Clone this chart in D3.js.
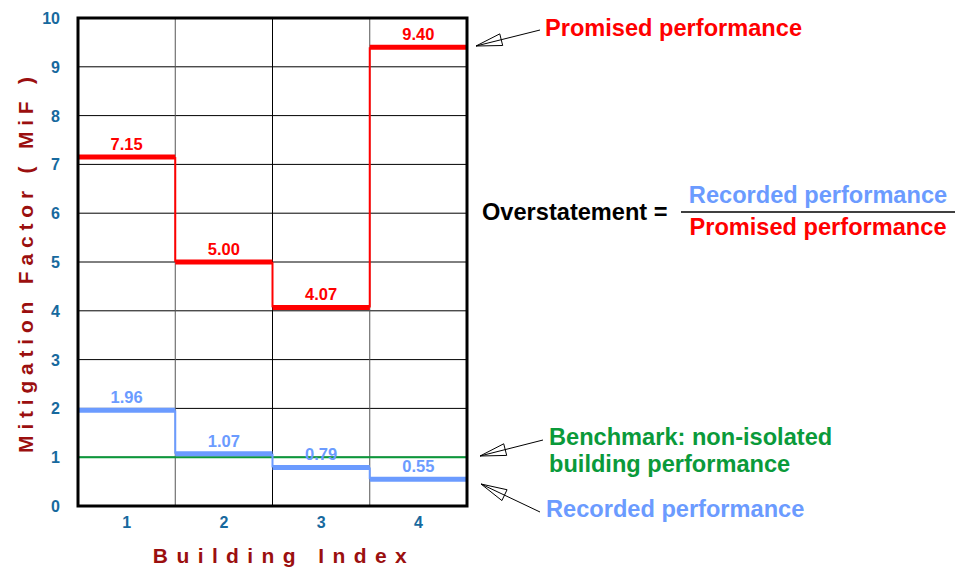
<!DOCTYPE html>
<html>
<head>
<meta charset="utf-8">
<script src="https://cdn.jsdelivr.net/npm/d3@7"></script>
<style>
  body { margin: 0; background: #fff; }
  text { font-family: "Liberation Sans", Arial, sans-serif; font-weight: bold; }
</style>
</head>
<body>
<svg id="chart" width="955" height="568"></svg>
<script>
// data
const buildings = [1, 2, 3, 4]
const promised = [7.15, 5.00, 4.07, 9.40]
const recorded = [1.96, 1.07, 0.79, 0.55]
const benchmark = 1
const yTicks = [0, 1, 2, 3, 4, 5, 6, 7, 8, 9, 10]

const RED = '#ff0000'
const BLUE = '#6b9bff'
const GREEN = '#0a9a3a'
const TICK = '#17699e'
const DARKRED = '#9b0f0f'

const svg = d3.select('#chart')
const pLeft = 78, pRight = 467, pTop = 18, pBottom = 506

const x = d3.scaleLinear().domain([0.5, 4.5]).range([pLeft, pRight])
const y = d3.scaleLinear().domain([0, 10]).range([pBottom, pTop])

// grid
svg.append('g').selectAll('line').data(yTicks.slice(1, -1)).join('line')
    .attr('x1', pLeft).attr('x2', pRight)
    .attr('y1', d => y(d)).attr('y2', d => y(d))
    .attr('stroke', '#000').attr('stroke-width', 1)
svg.append('g').selectAll('line').data(buildings.slice(0, -1)).join('line')
    .attr('x1', d => x(d + 0.5)).attr('x2', d => x(d + 0.5))
    .attr('y1', pTop).attr('y2', pBottom)
    .attr('stroke', (d, i) => i == 1 ? '#000' : '#555').attr('stroke-width', 1)

// benchmark
svg.append('line')
    .attr('x1', pLeft).attr('x2', pRight)
    .attr('y1', y(benchmark)).attr('y2', y(benchmark))
    .attr('stroke', GREEN).attr('stroke-width', 2)

// step series
const drawSteps = function (vals, color) {
    const g = svg.append('g')
    // vertical connectors
    g.selectAll('.conn').data(vals.slice(1)).join('line')
        .attr('class', 'conn')
        .attr('x1', (d, i) => x(buildings[i] + 0.5)).attr('x2', (d, i) => x(buildings[i] + 0.5))
        .attr('y1', (d, i) => y(vals[i])).attr('y2', d => y(d))
        .attr('stroke', color).attr('stroke-width', 2)
    // horizontal segments
    g.selectAll('.seg').data(vals).join('line')
        .attr('class', 'seg')
        .attr('x1', (d, i) => x(buildings[i] - 0.5)).attr('x2', (d, i) => x(buildings[i] + 0.5))
        .attr('y1', d => y(d)).attr('y2', d => y(d))
        .attr('stroke', color).attr('stroke-width', 5)
    g.selectAll('text').data(vals).join('text')
        .attr('x', (d, i) => x(buildings[i]))
        .attr('y', d => y(d) - 7)
        .attr('text-anchor', 'middle')
        .attr('font-size', 16.5)
        .attr('fill', color)
        .text(d => d.toFixed(2))
}
drawSteps(promised, RED)
drawSteps(recorded, BLUE)

// frame
svg.append('rect')
    .attr('x', pLeft).attr('y', pTop)
    .attr('width', pRight - pLeft).attr('height', pBottom - pTop)
    .attr('fill', 'none').attr('stroke', '#000').attr('stroke-width', 3)

// axes labels
svg.append('g').selectAll('text').data(yTicks).join('text')
    .attr('x', 60).attr('y', d => y(d) + 6)
    .attr('text-anchor', 'end')
    .attr('font-size', 16)
    .attr('fill', TICK)
    .text(d => d)
svg.append('g').selectAll('text').data(buildings).join('text')
    .attr('x', d => x(d)).attr('y', 528)
    .attr('text-anchor', 'middle')
    .attr('font-size', 16)
    .attr('fill', TICK)
    .text(d => d)

svg.append('text')
    .attr('transform', 'translate(33,262) rotate(-90)')
    .attr('text-anchor', 'middle')
    .attr('font-size', 21)
    .attr('letter-spacing', 5.8)
    .attr('fill', DARKRED)
    .text('Mitigation Factor ( MiF )')
svg.append('text')
    .attr('x', 284).attr('y', 563)
    .attr('text-anchor', 'middle')
    .attr('font-size', 21)
    .attr('letter-spacing', 8.4)
    .attr('fill', DARKRED)
    .text('Building Index')

// annotations
const arrow = function (x1, y1, x2, y2) {
    // line from (x1,y1) to tip (x2,y2) with an open triangle head
    const a = Math.atan2(y1 - y2, x1 - x2)
    const len = 26, hw = 6
    const bx = x2 + len * Math.cos(a), by = y2 + len * Math.sin(a)
    const px = -Math.sin(a) * hw, py = Math.cos(a) * hw
    svg.append('line')
        .attr('x1', x1).attr('y1', y1).attr('x2', x2).attr('y2', y2)
        .attr('stroke', '#000').attr('stroke-width', 1)
    svg.append('path')
        .attr('d', `M${x2},${y2}L${bx + px},${by + py}L${bx - px},${by - py}Z`)
        .attr('fill', 'none').attr('stroke', '#000').attr('stroke-width', 1)
}

const note = function (txt, tx, ty, color, anchor) {
    svg.append('text')
        .attr('x', tx).attr('y', ty)
        .attr('text-anchor', anchor || 'start')
        .attr('font-size', 23.6)
        .attr('fill', color)
        .text(txt)
}

note('Promised performance', 545, 36, RED)
arrow(540, 30, 476, 46)

note('Overstatement =', 482, 220, '#000')
note('Recorded performance', 818, 203, BLUE, 'middle')
note('Promised performance', 818, 235, RED, 'middle')
svg.append('line')
    .attr('x1', 681).attr('x2', 955).attr('y1', 212).attr('y2', 212)
    .attr('stroke', '#000').attr('stroke-width', 1.5)

note('Benchmark: non-isolated', 549, 445, GREEN)
note('building performance', 549, 472, GREEN)
arrow(543, 440, 480, 456)

note('Recorded performance', 546, 517, BLUE)
arrow(540, 512, 481, 484)
</script>
</body>
</html>
